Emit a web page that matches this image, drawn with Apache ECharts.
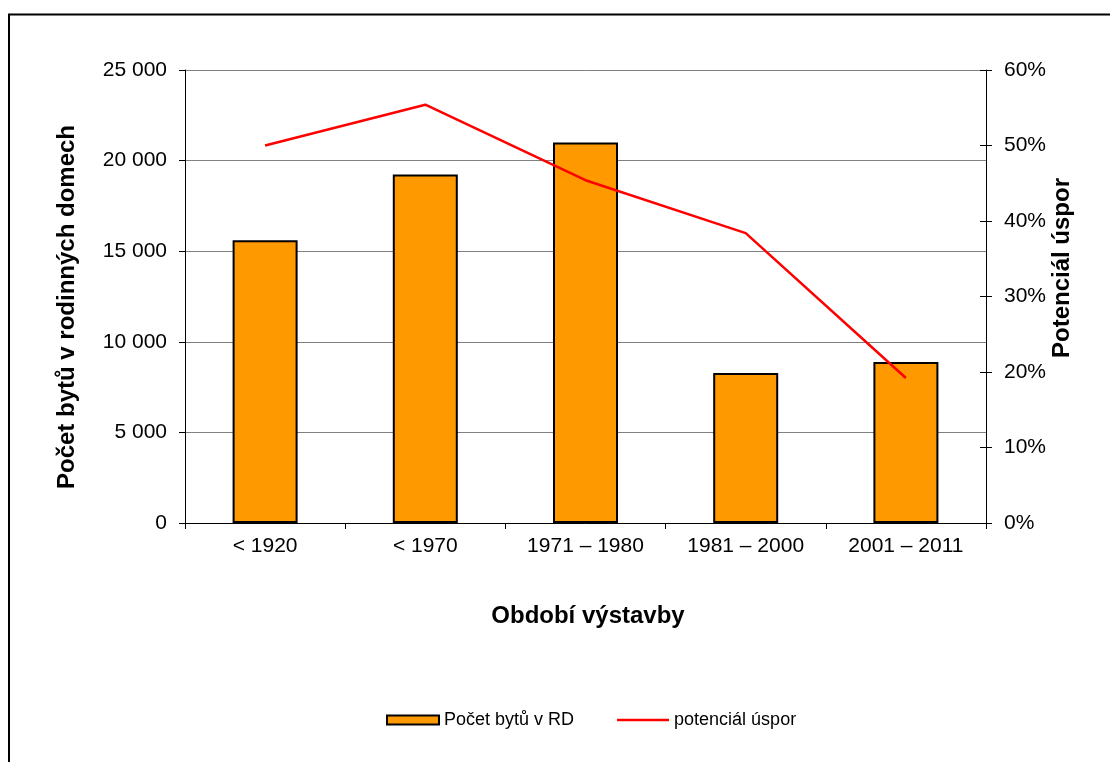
<!DOCTYPE html>
<html>
<head>
<meta charset="utf-8">
<script src="https://cdn.jsdelivr.net/npm/echarts@6/dist/echarts.min.js"></script>
<style>
  html, body { margin: 0; padding: 0; background: #fff; }
  #chart { width: 1110px; height: 762px; }
</style>
</head>
<body>
<div id="chart"></div>
<script>
// období výstavby
const categories = ['< 1920', '< 1970', '1971 – 1980', '1981 – 2000', '2001 – 2011']
// počet bytů v rodinných domech
const bytyRD = [15600, 19230, 21000, 8280, 8890]
// potenciál úspor v %
const potencialUspor = [50.0, 55.4, 45.4, 38.4, 19.2]

const FONT = '"Liberation Sans", Arial, sans-serif'

const chart = echarts.init(document.getElementById('chart'), null, { renderer: 'canvas' })

const titleStyle = (text) => ({
  text,
  font: 'bold 24px ' + FONT,
  fill: '#000',
  align: 'center',
  verticalAlign: 'middle'
})

const options = {
  backgroundColor: '#ffffff',
  animation: false,
  textStyle: { fontFamily: FONT, color: '#000' },
  // rámeček a názvy os
  graphic: [
    {
      type: 'rect',
      shape: { x: 9, y: 14.5, width: 1200, height: 800 },
      style: { fill: 'none', stroke: '#000', lineWidth: 2 },
      silent: true
    },
    { type: 'text', x: 67, y: 307, rotation: Math.PI / 2, style: titleStyle('Počet bytů v rodinných domech') },
    { type: 'text', x: 1062, y: 268, rotation: Math.PI / 2, style: titleStyle('Potenciál úspor') },
    { type: 'text', x: 588, y: 616, style: titleStyle('Období výstavby') }
  ],
  grid: { left: 185, top: 70, right: 124, bottom: 239, containLabel: false },
  legend: {
    left: 386, top: 711, padding: 0,
    itemWidth: 52, itemHeight: 9, itemGap: 43,
    textStyle: { fontSize: 18, fontFamily: FONT, color: '#000' },
    data: [
      { name: 'Počet bytů v RD', icon: 'rect' },
      { name: 'potenciál úspor', icon: 'path://M0,0 L52,0 L52,2.5 L0,2.5 Z', itemStyle: { color: '#FF0000', borderWidth: 0 } }
    ]
  },
  xAxis: {
    type: 'category',
    data: categories,
    boundaryGap: true,
    axisLine: { lineStyle: { color: '#000', width: 1 } },
    axisTick: { show: true, length: 6, lineStyle: { color: '#000' } },
    axisLabel: { fontSize: 21, color: '#000', margin: 13, fontFamily: FONT }
  },
  yAxis: [
    {
      type: 'value',
      min: 0, max: 25000, interval: 5000,
      axisLine: { show: true, lineStyle: { color: '#000', width: 1 } },
      axisTick: { show: true, length: 6, lineStyle: { color: '#000' } },
      axisLabel: {
        fontSize: 21, color: '#000', margin: 18, fontFamily: FONT,
        formatter: (v) => String(v).replace(/\B(?=(\d{3})+(?!\d))/g, ' ')
      },
      splitLine: { show: true, lineStyle: { color: '#808080', width: 1 } }
    },
    {
      type: 'value',
      min: 0, max: 60, interval: 10,
      position: 'right',
      axisLine: { show: true, lineStyle: { color: '#000', width: 1 } },
      axisTick: { show: true, length: 6, lineStyle: { color: '#000' } },
      axisLabel: { fontSize: 21, color: '#000', margin: 18, fontFamily: FONT, formatter: '{value}%' },
      splitLine: { show: false }
    },
    {
      // vnitřní značky pravé osy (křížové značky)
      type: 'value',
      min: 0, max: 60, interval: 10,
      position: 'right',
      axisLine: { show: false },
      axisTick: { show: true, inside: true, length: 6, lineStyle: { color: '#000' } },
      axisLabel: { show: false },
      splitLine: { show: false }
    }
  ],
  series: [
    {
      name: 'Počet bytů v RD',
      type: 'bar',
      data: bytyRD,
      barWidth: 65,
      itemStyle: { color: '#FF9900', borderColor: '#000', borderWidth: 2 }
    },
    {
      name: 'potenciál úspor',
      type: 'line',
      yAxisIndex: 1,
      data: potencialUspor,
      symbol: 'none',
      lineStyle: { color: '#FF0000', width: 2.5 },
      itemStyle: { color: '#FF0000' }
    }
  ]
}

chart.setOption(options)
</script>
</body>
</html>
